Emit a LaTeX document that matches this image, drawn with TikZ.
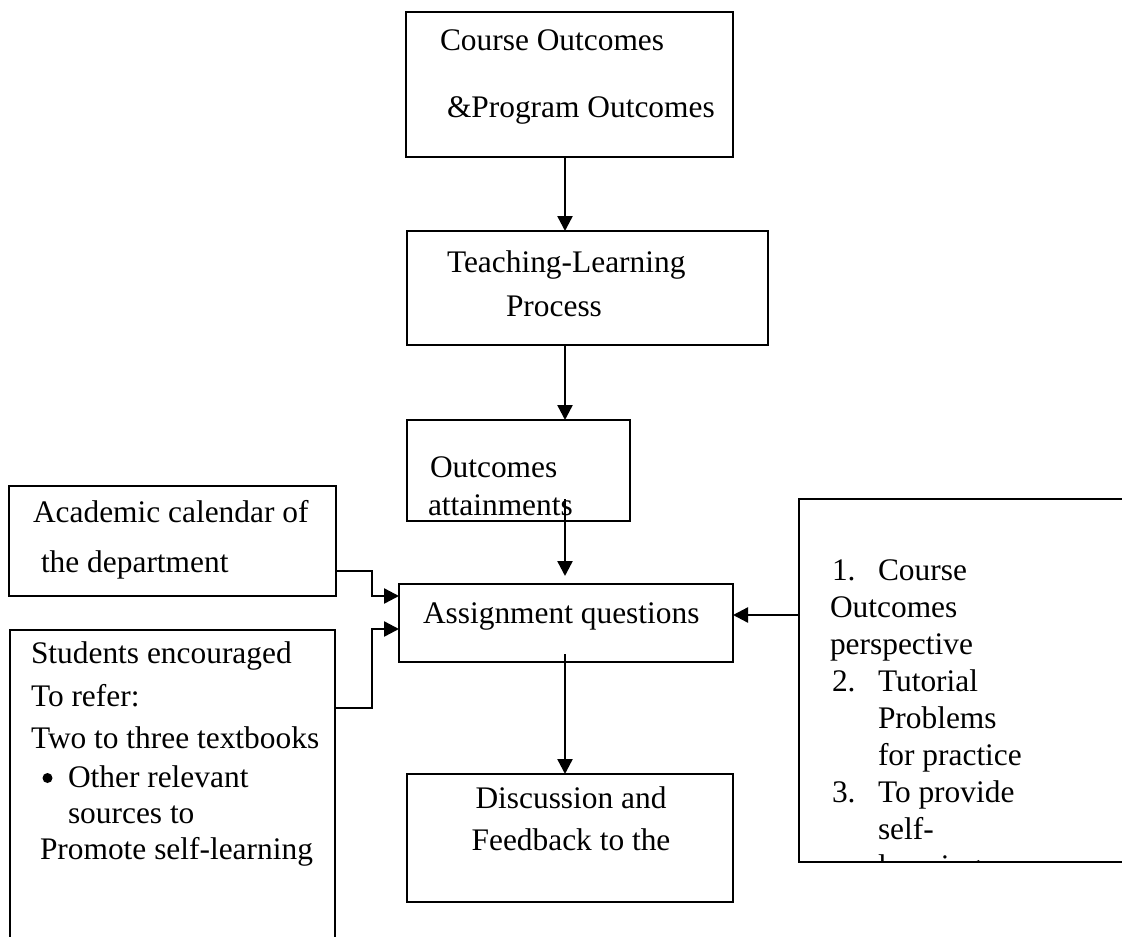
\documentclass[tikz,border=0pt]{standalone}
\usepackage{fontspec}
\setmainfont{Liberation Serif}
\usetikzlibrary{arrows.meta,calc}
\begin{document}
\begin{tikzpicture}[x=1pt,y=-1pt,
  box/.style={draw, line width=2.3pt, rectangle, inner sep=0pt, outer sep=0pt, anchor=north west},
  lbl/.style={anchor=base west, inner sep=0pt, outer sep=0pt, font=\fontsize{31.4}{37}\selectfont},
  clbl/.style={lbl, anchor=base},
  flow/.style={line width=2.4pt, -{Triangle[length=15pt,width=15pt]}}
]
\clip (0,0) rectangle (1122,937);
\fill[white] (0,0) rectangle (1122,937);

% boxes
\node[box, minimum width=327pt, minimum height=145pt] (co)   at (406,12)  {};
\node[box, minimum width=361pt, minimum height=114pt] (tl)   at (407,231) {};
\node[box, minimum width=223pt, minimum height=101pt] (oa)   at (407,420) {};
\node[box, minimum width=334pt, minimum height=78pt]  (aq)   at (399,584) {};
\node[box, minimum width=326pt, minimum height=128pt] (dis)  at (407,774) {};
\node[box, minimum width=327pt, minimum height=110pt] (acad) at (9,486)   {};
\node[box, minimum width=325pt, minimum height=330pt] (stud) at (10,630)  {};
\node[box, minimum width=340pt, minimum height=363pt] (rb)   at (799,499) {};

% texts
\node[lbl] (co1) at (440,50)  {Course Outcomes};
\node[lbl] (co2) at (447,117) {\&Program Outcomes};
\node[lbl] (tl1) at (447,272) {Teaching-Learning};
\node[lbl] (tl2) at (506,316) {Process};
\node[lbl] (oa1) at (430,477) {Outcomes};
\node[lbl] (oa2) at (428,515) {attainments};
\node[lbl] (aq1) at (423,623) {Assignment questions};
\node[clbl] (ds1) at (571,808) {Discussion and};
\node[clbl] (ds2) at (571,850) {Feedback to the};
\node[lbl] (ac1) at (33,522) {Academic calendar of};
\node[lbl] (ac2) at (41,572) {the department};
\node[lbl] (st1) at (31,663) {Students encouraged};
\node[lbl] (st2) at (31,706) {To refer:};
\node[lbl] (st3) at (31,748) {Two to three textbooks};
\node[circle, fill, inner sep=0pt, minimum size=10pt] (stb) at (47.5,778) {};
\node[lbl] (st4) at (68,787) {Other relevant};
\node[lbl] (st5) at (68,823) {sources to};
\node[lbl] (st6) at (40,859) {Promote self-learning};

\node[lbl] (n1)  at (832,580) {1.};
\node[lbl] (r1)  at (878,580) {Course};
\node[lbl] (r2)  at (830,617) {Outcomes};
\node[lbl] (r3)  at (830,654) {perspective};
\node[lbl] (n2)  at (832,691) {2.};
\node[lbl] (r4)  at (878,691) {Tutorial};
\node[lbl] (r5)  at (878,728) {Problems};
\node[lbl] (r6)  at (878,765) {for practice};
\node[lbl] (n3)  at (832,802) {3.};
\node[lbl] (r7)  at (878,802) {To provide};
\node[lbl] (r8)  at (878,839) {self-};
\begin{scope}
  \clip (rb.north west) rectangle (rb.south east);
  \node[lbl] (r9) at (878,876) {learning};
\end{scope}

% connectors
\coordinate (xa) at (565,0);
\coordinate (ya) at (0,615);
\coordinate (k1) at (372,571);
\coordinate (j1) at (0,596);
\coordinate (k2) at (372,708);
\coordinate (j2) at (0,629);

\draw[flow] (co.south -| xa) -- (tl.north -| xa);
\draw[flow] (tl.south -| xa) -- (oa.north -| xa);
\draw[flow] ($(oa.south -| xa)+(0,-22)$) -- ($(aq.north -| xa)+(0,-8)$);
\draw[flow] ($(aq.south -| xa)+(0,-8)$) -- (dis.north -| xa);
\draw[flow] (rb.west |- ya) -- (aq.east |- ya);
\draw[flow] (acad.east |- k1) -- (k1) |- (aq.west |- j1);
\draw[flow] (stud.east |- k2) -- (k2) |- (aq.west |- j2);
\end{tikzpicture}
\end{document}
